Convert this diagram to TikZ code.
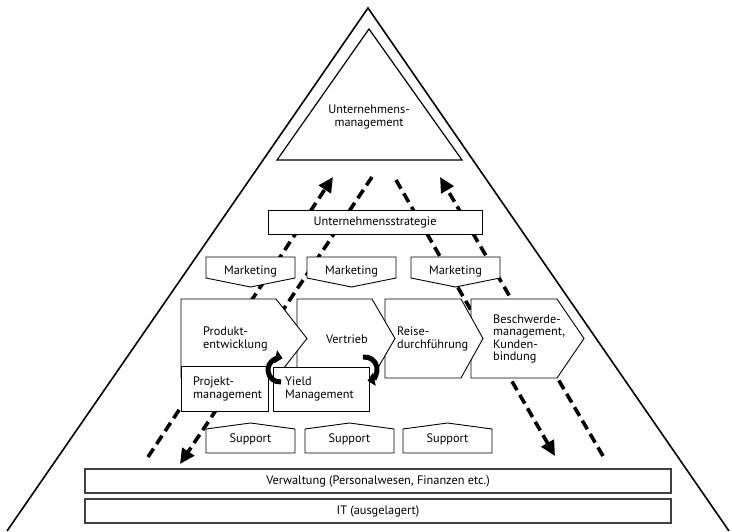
\documentclass[tikz,border=0pt]{standalone}
\usepackage{fontspec}
\setmainfont{PT Sans}
\usetikzlibrary{arrows.meta}
\begin{document}
\begin{tikzpicture}[x=1pt,y=-1pt,
  lbl/.style={font=\fontsize{12.3}{12.5}\selectfont, inner sep=0pt, align=left},
  clbl/.style={font=\fontsize{12.3}{12.5}\selectfont, inner sep=0pt, align=center},
  frame/.style={draw=black, line width=0.9pt, fill=white, line join=miter},
  band/.style={draw=black!75, line width=1.1pt, fill=white},
  flow/.style={line width=3.6pt, dash pattern=on 10pt off 5.5pt, -{Triangle[length=15pt,width=14pt]}},
  cyc/.style={line width=5pt, -{Triangle[length=7pt,width=13pt]}}
]
\useasboundingbox (0,0) rectangle (732,531);
% outer pyramid
\coordinate (bl) at (7,531);
\coordinate (apex) at (368,8);
\coordinate (br) at (729,531);
\draw[line width=1.6pt] (bl) -- (apex) -- (br);
% inner triangle
\draw[line width=1.2pt] (277,160) -- (369,29) -- (462,160) -- cycle;
\node[clbl] (um) at (369,117) {Unternehmens-\\management};
% dashed flows
\coordinate (a1) at (148,457); \coordinate (a2) at (333,177);
\coordinate (b1) at (372,177); \coordinate (b2) at (180,464);
\coordinate (c1) at (396,180); \coordinate (c2) at (555,456);
\coordinate (d1) at (603,456); \coordinate (d2) at (440,177);
\draw[flow] (a1) -- (a2);
\draw[flow] (b1) -- (b2);
\draw[flow] (c1) -- (c2);
\draw[flow] (d1) -- (d2);
% strategy
\draw[frame] (268,210) rectangle (482,234);
\node[clbl] (strat) at (375,222) {Unternehmensstrategie};
% marketing
\foreach \l/\n in {206/m1, 307/m2, 411/m3} {
  \draw[frame] (\l,257) -- ++(89,0) -- ++(0,21) -- ++(-44.5,9) -- ++(-44.5,-9) -- cycle;
  \node[clbl] (\n) at (\l+44.5,271) {Marketing};
}
% support
\foreach \l/\n in {206/s1, 305/s2, 403/s3} {
  \draw[frame] (\l,453) -- ++(89,0) -- ++(0,-24) -- ++(-44.5,-6) -- ++(-44.5,6) -- cycle;
  \node[clbl] (\n) at (\l+44.5,439) {Support};
}
% process chevrons (right to left)
\draw[frame] (471,299) -- (557,299) -- (584,338.5) -- (557,378) -- (471,378) -- cycle;
\draw[frame] (385,299) -- (461,299) -- (483,338.5) -- (461,378) -- (385,378) -- cycle;
\draw[frame] (297,299) -- (372,299) -- (395,338.5) -- (372,378) -- (297,378) -- cycle;
\draw[frame] (181,299) -- (276,299) -- (307,338.5) -- (276,378) -- (181,378) -- cycle;
\node[lbl, anchor=west] (pe) at (203,339) {Produkt-\\entwicklung};
\node[lbl] (vt) at (347,339) {Vertrieb};
\node[lbl, anchor=west] (rd) at (397,339) {Reise-\\durchführung};
\node[lbl, anchor=west] (bk) at (493,339) {Beschwerde-\\management,\\Kunden-\\bindung};
% sub boxes
\draw[frame] (181,366) rectangle (268,411);
\node[lbl, anchor=west] (pm) at (193,389) {Projekt-\\management};
\draw[frame] (273,367) rectangle (369,411);
\node[lbl, anchor=west] (ym) at (285,389) {Yield\\Management};
% cycle arrows
\draw[cyc] (280,370) ++(275:12pt) arc[start angle=275, end angle=78, radius=12pt];
\draw[cyc] (365,369) ++(100:12pt) arc[start angle=100, end angle=-78, radius=12pt];
% bottom bands
\draw[band] (85,469) rectangle (671,493);
\node[clbl] (vw) at (378,481) {Verwaltung (Personalwesen, Finanzen etc.)};
\draw[band] (85,499) rectangle (671,523);
\node[clbl] (it) at (378,511) {IT (ausgelagert)};
\end{tikzpicture}
\end{document}
